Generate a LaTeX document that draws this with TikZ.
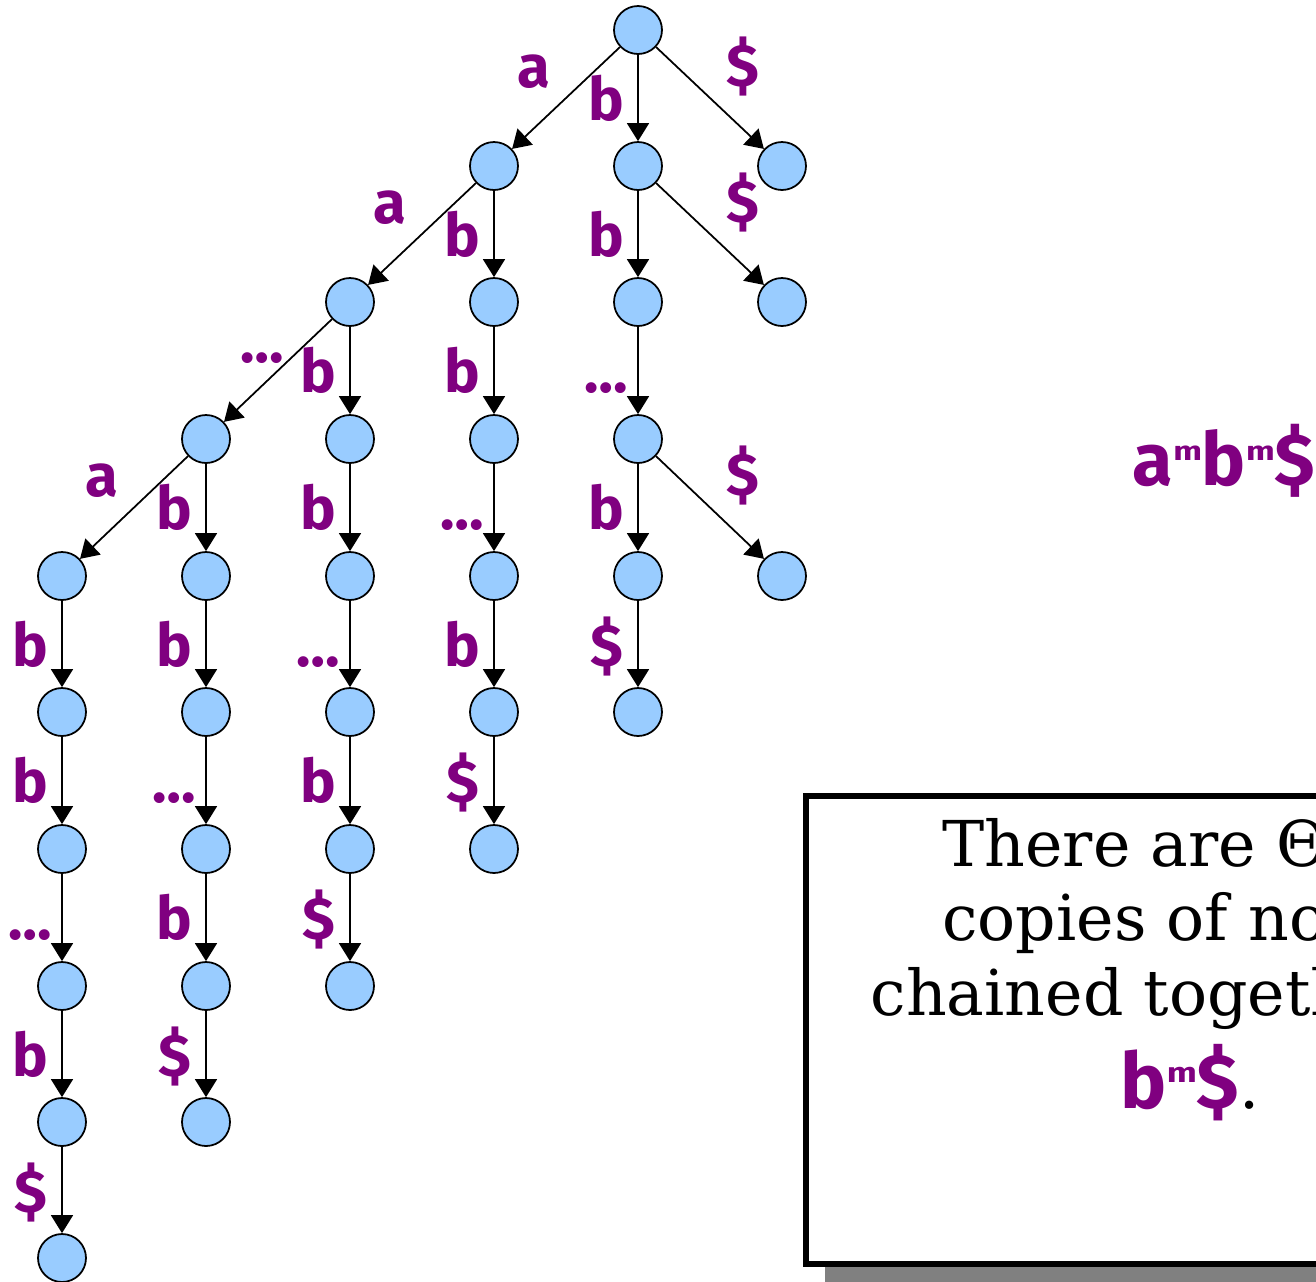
\documentclass[tikz,border=0pt]{standalone}
\usepackage{fontspec}
\setsansfont{Fira Sans}
\newfontfamily\boxfont{DejaVu Serif}
\usetikzlibrary{arrows.meta,positioning,shadows}
\definecolor{nodeblue}{HTML}{99CCFF}
\definecolor{letterpurple}{HTML}{800080}
\newcommand{\supm}{\raisebox{0.33em}{\scalebox{0.46}[0.36]{m}}}

\begin{document}
\begin{tikzpicture}[>={Triangle[width=0.22cm,length=0.18cm]},
    vtx/.style={circle,draw,fill=nodeblue,minimum size=0.48cm,inner sep=0pt,line width=0.5pt},
    edge/.style={->,line width=0.5pt},
    lbl/.style={font={\sffamily\bfseries\fontsize{17}{17}\selectfont},text=letterpurple,inner sep=0pt,anchor=base},
    lvert/.style={lbl,xshift=-0.315cm,yshift=-0.22cm},
    lleft/.style={lbl,xshift=-0.32cm,yshift=0.11cm},
    lright/.style={lbl,xshift=0.33cm,yshift=0.12cm},
    lskip/.style={lbl,xshift=-0.155cm,yshift=0.08cm},
    bigword/.style={font={\sffamily\bfseries\fontsize{21}{21}\selectfont},text=letterpurple,inner sep=0pt,anchor=base},
    notebox/.style={draw,line width=0.06cm,fill=white,minimum width=7.68cm,minimum height=4.675cm,
      drop shadow={shadow xshift=0.19cm,shadow yshift=-0.19cm,fill=gray,opacity=1}},
    notetext/.style={align=center,inner sep=0pt,font={\boxfont\fontsize{18}{21.2}\selectfont}}]
    \useasboundingbox (0,0) rectangle (13.16,-12.81);
    \clip (0,0) rectangle (13.16,-12.81);

    % trie nodes, column by column
    \node[vtx] (E1) at (6.38,-0.30) {};
    \node[vtx] (D2) at (4.94,-1.66) {};
    \node[vtx] (E2) at (6.38,-1.66) {};
    \node[vtx] (F2) at (7.82,-1.66) {};
    \node[vtx] (C3) at (3.50,-3.02) {};
    \node[vtx] (D3) at (4.94,-3.02) {};
    \node[vtx] (E3) at (6.38,-3.02) {};
    \node[vtx] (F3) at (7.82,-3.02) {};
    \node[vtx] (B4) at (2.06,-4.39) {};
    \node[vtx] (C4) at (3.50,-4.39) {};
    \node[vtx] (D4) at (4.94,-4.39) {};
    \node[vtx] (E4) at (6.38,-4.39) {};
    \node[vtx] (A5) at (0.62,-5.76) {};
    \node[vtx] (B5) at (2.06,-5.76) {};
    \node[vtx] (C5) at (3.50,-5.76) {};
    \node[vtx] (D5) at (4.94,-5.76) {};
    \node[vtx] (E5) at (6.38,-5.76) {};
    \node[vtx] (F5) at (7.82,-5.76) {};
    \node[vtx] (A6) at (0.62,-7.12) {};
    \node[vtx] (B6) at (2.06,-7.12) {};
    \node[vtx] (C6) at (3.50,-7.12) {};
    \node[vtx] (D6) at (4.94,-7.12) {};
    \node[vtx] (E6) at (6.38,-7.12) {};
    \node[vtx] (A7) at (0.62,-8.49) {};
    \node[vtx] (B7) at (2.06,-8.49) {};
    \node[vtx] (C7) at (3.50,-8.49) {};
    \node[vtx] (D7) at (4.94,-8.49) {};
    \node[vtx] (A8) at (0.62,-9.86) {};
    \node[vtx] (B8) at (2.06,-9.86) {};
    \node[vtx] (C8) at (3.50,-9.86) {};
    \node[vtx] (A9) at (0.62,-11.22) {};
    \node[vtx] (B9) at (2.06,-11.22) {};
    \node[vtx] (A10) at (0.62,-12.58) {};

    % edges
    \draw[edge] (E1) -- node[lleft] {a} (D2);
    \draw[edge] (E1) -- node[lvert] {b} (E2);
    \draw[edge] (E1) -- node[lright] {\$} (F2);
    \draw[edge] (D2) -- node[lleft] {a} (C3);
    \draw[edge] (D2) -- node[lvert] {b} (D3);
    \draw[edge] (E2) -- node[lvert] {b} (E3);
    \draw[edge] (E2) -- node[lright] {\$} (F3);
    \draw[edge] (C3) -- node[lskip] {…} (B4);
    \draw[edge] (C3) -- node[lvert] {b} (C4);
    \draw[edge] (D3) -- node[lvert] {b} (D4);
    \draw[edge] (E3) -- node[lvert] {…} (E4);
    \draw[edge] (B4) -- node[lleft] {a} (A5);
    \draw[edge] (B4) -- node[lvert] {b} (B5);
    \draw[edge] (C4) -- node[lvert] {b} (C5);
    \draw[edge] (D4) -- node[lvert] {…} (D5);
    \draw[edge] (E4) -- node[lvert] {b} (E5);
    \draw[edge] (E4) -- node[lright] {\$} (F5);
    \draw[edge] (A5) -- node[lvert] {b} (A6);
    \draw[edge] (B5) -- node[lvert] {b} (B6);
    \draw[edge] (C5) -- node[lvert] {…} (C6);
    \draw[edge] (D5) -- node[lvert] {b} (D6);
    \draw[edge] (E5) -- node[lvert] {\$} (E6);
    \draw[edge] (A6) -- node[lvert] {b} (A7);
    \draw[edge] (B6) -- node[lvert] {…} (B7);
    \draw[edge] (C6) -- node[lvert] {b} (C7);
    \draw[edge] (D6) -- node[lvert] {\$} (D7);
    \draw[edge] (A7) -- node[lvert] {…} (A8);
    \draw[edge] (B7) -- node[lvert] {b} (B8);
    \draw[edge] (C7) -- node[lvert] {\$} (C8);
    \draw[edge] (A8) -- node[lvert] {b} (A9);
    \draw[edge] (B8) -- node[lvert] {\$} (B9);
    \draw[edge] (A9) -- node[lvert] {\$} (A10);

    \node[bigword] (word) at (12.24,-4.85) {a\supm b\supm\$};

    % note box
    \node[notebox] (note) at (11.90,-10.30) {};
    \node[notetext,below=0.24cm of note.north] (notetxt)
      {There are Θ(m)\\copies of nodes\\chained together as\\[3.3pt]%
       \textcolor{letterpurple}{\sffamily\bfseries\fontsize{22}{21.2}\selectfont b\supm\$}.};
  \end{tikzpicture}
\end{document}
